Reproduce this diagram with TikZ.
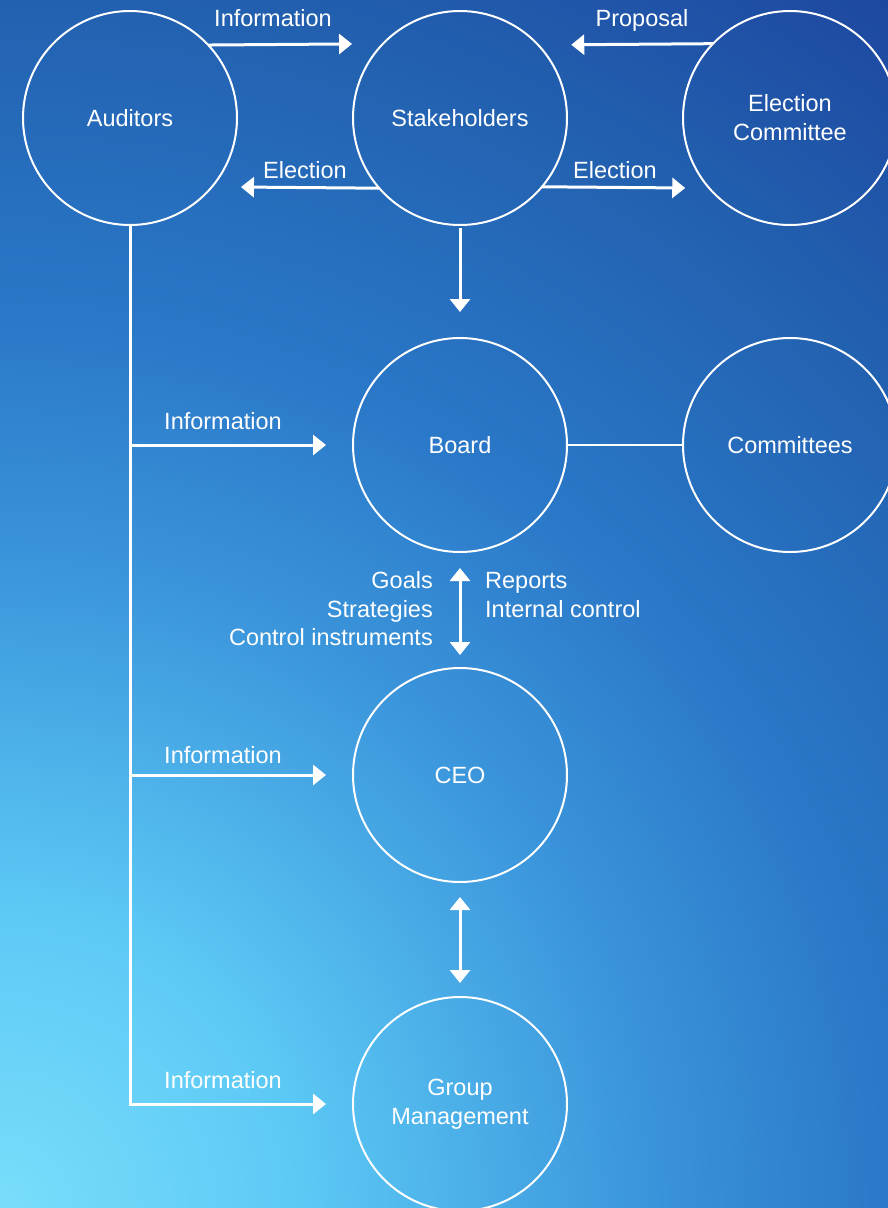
\documentclass[tikz,border=0pt]{standalone}
\usepackage{fontspec}
\setmainfont{Liberation Sans}
\usetikzlibrary{arrows.meta,calc}
\definecolor{c0}{HTML}{7ADDFB}
\definecolor{c1}{HTML}{5CC9F5}
\definecolor{c2}{HTML}{3C97DC}
\definecolor{c3}{HTML}{2A78C8}
\definecolor{c4}{HTML}{2261B0}
\definecolor{c5}{HTML}{1E48A0}
\pgfdeclareradialshading{bgshade}{\pgfpoint{0bp}{0bp}}{color(0bp)=(c0); color(5bp)=(c1); color(10.5bp)=(c2); color(14.8bp)=(c3); color(20.15bp)=(c4); color(25bp)=(c5); color(50bp)=(c5)}
\newcommand\lblfont{\fontsize{23.5}{29}\selectfont}
\tikzset{
  circ/.style={circle, draw=white, line width=2pt, minimum size=214pt, inner sep=0pt, outer sep=0pt, text=white, align=center, font=\lblfont},
  arr/.style={draw=white, line width=3pt, -{Triangle[length=13pt,width=20pt]}},
  darr/.style={draw=white, line width=3pt, {Triangle[length=13pt,width=20pt]}-{Triangle[length=13pt,width=20pt]}},
  plain/.style={draw=white, line width=2.5pt},
  lab/.style={text=white, font=\lblfont, inner sep=0pt, anchor=base},
}
\begin{document}
\begin{tikzpicture}[x=1pt,y=-1pt]
\useasboundingbox (0,0) rectangle (888,1208);
\clip (0,0) rectangle (888,1208);
\fill[c5] (0,0) rectangle (888,1208);
\shade[shading=bgshade] (0,1208) circle (1500);

% nodes
\node[circ] (Aud) at (130,118) {Auditors};
\node[circ] (Stk) at (460,118) {Stakeholders};
\node[circ] (ElC) at (790,118) {Election\\Committee};
\node[circ] (Brd) at (460,445) {Board};
\node[circ] (Com) at (790,445) {Committees};
\node[circ] (CEO) at (460,775) {CEO};
\node[circ] (GM) at (460,1104) {Group\\Management};

% top connectors
\draw[arr, shorten >=31pt] (Aud.43.8) -- (Stk.136.2);
\draw[arr, shorten >=33pt] (ElC.136.2) -- (Stk.43.8);
\draw[arr, shorten >=29pt] (Stk.-139.1) -- (Aud.-40.9);
\draw[arr, shorten >=24pt] (Stk.-40.9) -- (ElC.-139.1);
\draw[arr, shorten <=3pt, shorten >=26pt] (Stk.south) -- (Brd.north);

% auditors information line
\draw[arr, shorten >=27pt] (Aud.south) |- (GM.west);
\draw[arr, shorten >=27pt] (Aud.south |- Brd.west) -- (Brd.west);
\draw[arr, shorten >=27pt] (Aud.south |- CEO.west) -- (CEO.west);

% board - committees
\draw[plain, line width=2pt] (Brd.east) -- (Com.west);

% double arrows
\draw[darr, shorten <=16pt, shorten >=13pt] (Brd.south) -- (CEO.north);
\draw[darr, shorten <=15pt, shorten >=14pt] (CEO.south) -- (GM.north);

% labels
\node[lab] (lInfoA) at (273,26) {Information};
\node[lab] (lProp) at (642,26) {Proposal};
\node[lab] (lElL) at (305,178) {Election};
\node[lab] (lElR) at (615,178) {Election};
\node[lab] (lInfoB) at (223,429) {Information};
\node[lab] (lInfoC) at (223,763) {Information};
\node[lab] (lInfoG) at (223,1088) {Information};
\node[lab, anchor=base east] (lGoals) at (433,588) {Goals};
\node[lab, anchor=base east] (lStrat) at (433,617) {Strategies};
\node[lab, anchor=base east] (lCtrl) at (433,645) {Control instruments};
\node[lab, anchor=base west] (lRep) at (485,588) {Reports};
\node[lab, anchor=base west] (lInt) at (485,617) {Internal control};
\end{tikzpicture}
\end{document}
